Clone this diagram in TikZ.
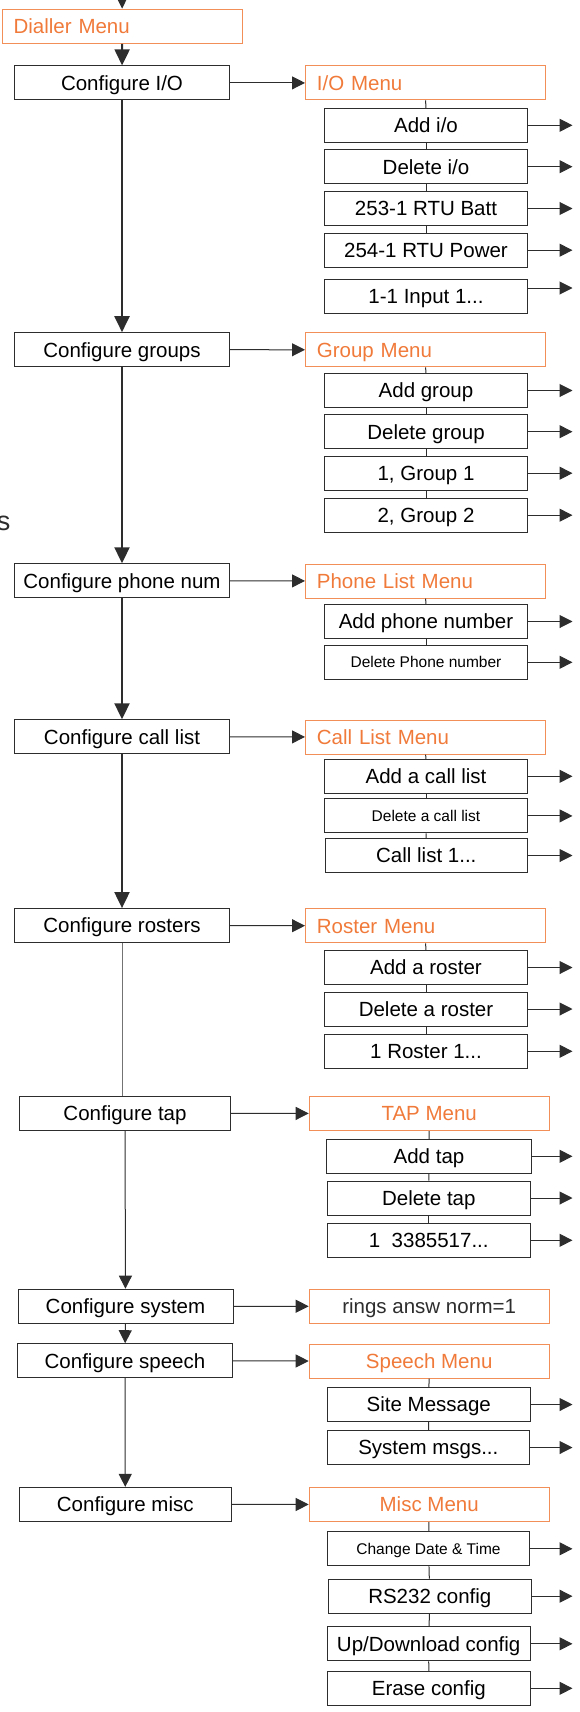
\documentclass[tikz,border=0pt]{standalone}
\usepackage{fontspec}
\setmainfont{Liberation Sans}
\usetikzlibrary{arrows.meta}
\definecolor{menuorange}{RGB}{240,122,58}
\definecolor{boxline}{RGB}{45,45,45}

\begin{document}
\begin{tikzpicture}[x=0.5pt,y=-0.5pt,
  box/.style={draw=boxline,line width=0.5pt,inner sep=0pt,minimum height=17pt,
    font=\fontsize{10.25}{12}\selectfont,text height=7.35pt,text depth=0pt},
  cfg/.style={box,minimum width=107.5pt},
  item/.style={box,minimum width=101.3pt},
  small/.style={font=\fontsize{7.75}{9}\selectfont,text height=5.55pt},
  menu/.style={box,draw=menuorange!85,text=menuorange,minimum width=120pt},
  menul/.style={menu,inner xsep=5.7pt,text width=108.6pt,align=left},
  main/.style={color=boxline,line width=1pt,-{Triangle[length=8pt,width=7.5pt]}},
  arr/.style={color=boxline,line width=0.5pt,-{Triangle[length=6.5pt,width=6.5pt]}},
  link/.style={color=boxline,line width=0.5pt},
  thin/.style={color=black!55,line width=0.5pt}]
\useasboundingbox (0,0) rectangle (579,1712);
\coordinate (top) at (122,-20);
\coordinate (rim) at (572.5,0);

\node[menul] (dial) at (122.2,26.3) {Dialler Menu};

\node[cfg] (cio) at (122,82.9) {Configure I/O};
\node[menul] (iom) at (425.5,82.9) {I/O Menu};
\node[item] (addio) at (426,125.3) {Add i/o};
\node[item] (delio) at (426,166.7) {Delete i/o};
\node[item] (rtub) at (426,208.5) {253-1 RTU Batt};
\node[item] (rtup) at (426,250.2) {254-1 RTU Power};
\node[item] (inp) at (426,296) {1-1 Input 1...};

\node[cfg] (cgrp) at (122,349.7) {Configure groups};
\node[menul] (grpm) at (425.5,349.8) {Group Menu};
\node[item] (addgrp) at (426,390.5) {Add group};
\node[item] (delgrp) at (426,431.7) {Delete group};
\node[item] (grpa) at (426,473.2) {1, Group 1};
\node[item] (grpb) at (426,515.2) {2, Group 2};

\node[anchor=base west,inner sep=0pt,font=\fontsize{13.5}{16}\selectfont,text=boxline] (stray) at (-3.5,530.7) {s};

\node[cfg] (cph) at (122,580.8) {Configure phone num};
\node[menul] (phm) at (425.5,581) {Phone List Menu};
\node[item] (addph) at (426,621.5) {Add phone number};
\node[item,small] (delph) at (426,662.3) {Delete Phone number};

\node[cfg] (ccl) at (122,736.8) {Configure call list};
\node[menul] (clm) at (425.5,737) {Call List Menu};
\node[item] (addcl) at (426,776.3) {Add a call list};
\node[item,small] (delcl) at (426,815.9) {Delete a call list};
\node[item] (cla) at (426.3,855.5) {Call list 1...};

\node[cfg] (cros) at (122,925.6) {Configure rosters};
\node[menul] (rosm) at (425.5,925.8) {Roster Menu};
\node[item] (addros) at (426,967.5) {Add a roster};
\node[item] (delros) at (426,1009) {Delete a roster};
\node[item] (rosa) at (426,1051.3) {1 Roster 1...};

\node[cfg,minimum width=105.7pt] (ctap) at (125,1113.3) {Configure tap};
\node[menu] (tapm) at (429.2,1113.5) {TAP Menu};
\node[item,minimum width=102.7pt] (addtap) at (429,1156.3) {Add tap};
\node[item] (deltap) at (428.8,1198) {Delete tap};
\node[item] (tapa) at (428.8,1240.3) {1\ \ 3385517...};

\node[cfg] (csys) at (125.5,1306.2) {Configure system};
\node[menu,text=boxline] (rings) at (429.2,1306.3) {rings answ norm=1};

\node[cfg] (cspe) at (125,1360.7) {Configure speech};
\node[menu] (spm) at (429.2,1361.2) {Speech Menu};
\node[item] (site) at (428.8,1404.5) {Site Message};
\node[item] (sysm) at (428.3,1447.5) {System msgs...};

\node[cfg,minimum width=106pt] (cmis) at (125.3,1504.4) {Configure misc};
\node[menu] (miscm) at (429.2,1504.5) {Misc Menu};
\node[item,small] (chdt) at (428.5,1548.8) {Change Date \& Time};
\node[item] (rsc) at (429.8,1596.2) {RS232 config};
\node[item] (updl) at (428.7,1643.8) {Up/Download config};
\node[item] (erase) at (428.8,1688.3) {Erase config};

\path [main] (top) edge (dial);
\foreach \a/\b in {dial/cio,cio/cgrp,cgrp/cph,cph/ccl,ccl/cros}
  \path [main] (\a) edge (\b);
\path [thin] (cros.south) edge (cros.south |- ctap.north);
\foreach \a/\b in {ctap/csys,csys/cspe,cspe/cmis}
  \path [arr] (\a) edge (\b);

\foreach \a/\b in {cio/iom,cgrp/grpm,cph/phm,ccl/clm,cros/rosm,ctap/tapm,csys/rings,cspe/spm,cmis/miscm}
  \path [arr] (\a) edge (\b);

\foreach \a/\b in {iom/addio,addio/delio,delio/rtub,rtub/rtup,
  grpm/addgrp,addgrp/delgrp,delgrp/grpa,grpa/grpb,
  phm/addph,addph/delph,clm/addcl,addcl/delcl,delcl/cla,
  rosm/addros,addros/delros,delros/rosa,tapm/addtap,addtap/deltap,deltap/tapa,
  spm/site,site/sysm,miscm/chdt,chdt/rsc,rsc/updl,updl/erase}
  \path [link] (\a) edge (\b);

\foreach \n in {addio,delio,rtub,rtup,addgrp,delgrp,grpa,grpb,addph,delph,
  addcl,delcl,cla,addros,delros,rosa,addtap,deltap,tapa,site,sysm,
  chdt,rsc,updl,erase}
  \path [arr] (\n.east) edge (\n.east -| rim);
\path [arr] ([yshift=4pt]inp.east) edge ([yshift=4pt]inp.east -| rim);
\end{tikzpicture}
\end{document}
